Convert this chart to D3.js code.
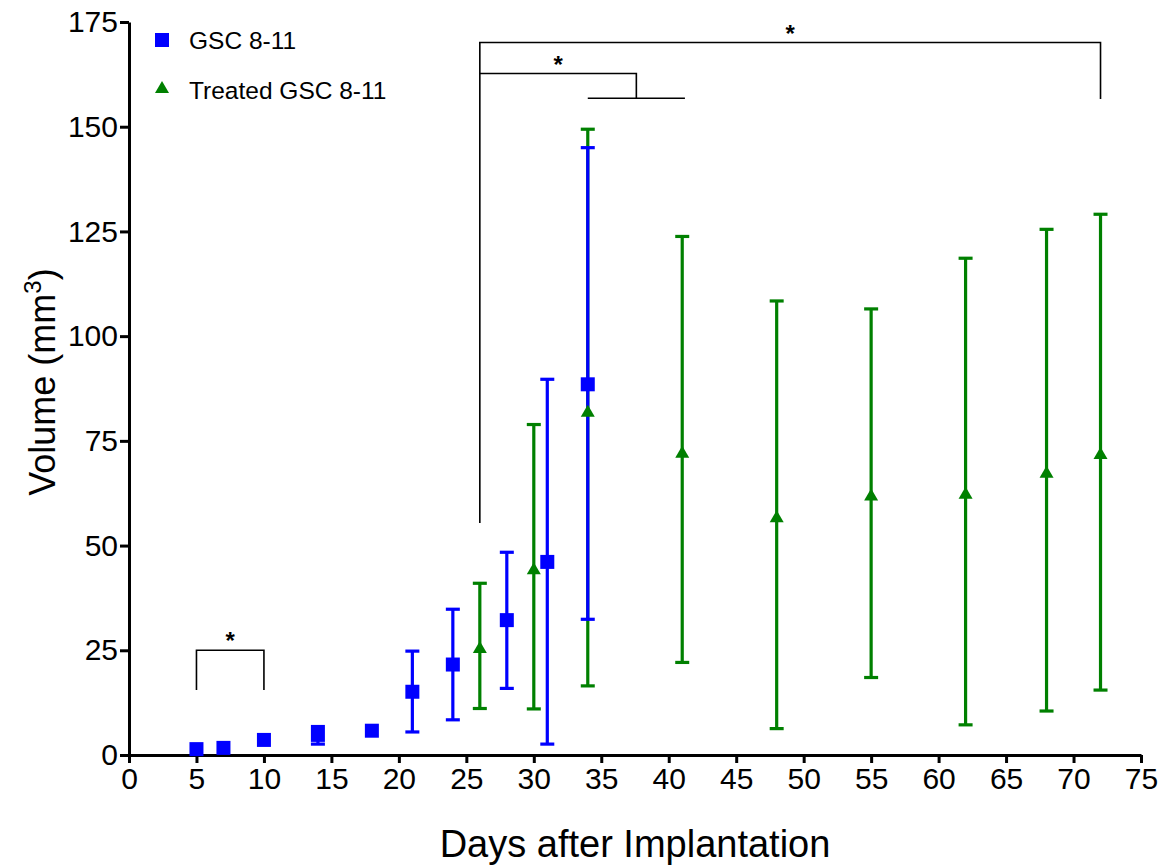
<!DOCTYPE html>
<html>
<head>
<meta charset="utf-8">
<script src="https://cdn.jsdelivr.net/npm/d3@7"></script>
<style>
  body { margin: 0; background: #fff; }
  text { font-family: "Liberation Sans", Arial, sans-serif; }
</style>
</head>
<body>
<div id="graph"></div>
<script>
// --------------------------------------
//  Data
// --------------------------------------

const blueDays = [5, 7, 10, 14, 18, 21, 24, 28, 31, 34];
const blueMean = [1.4, 1.7, 3.6, 4.8, 5.8, 15.1, 21.6, 32.2, 46.1, 88.5];
const blueLow  = [1.4, 1.7, 3.6, 2.6, 5.8, 5.5, 8.4, 15.9, 2.6, 32.4];
const blueHigh = [1.4, 1.7, 3.6, 6.8, 5.8, 24.8, 34.8, 48.4, 89.7, 145.0];

const greenDays = [26, 30, 34, 41, 48, 55, 62, 68, 72];
const greenMean = [25.8, 44.6, 82.2, 72.4, 57.0, 62.2, 62.6, 67.6, 72.1];
const greenLow  = [11.1, 11.0, 16.5, 22.1, 6.3, 18.5, 7.2, 10.5, 15.5];
const greenHigh = [41.0, 78.9, 149.4, 123.8, 108.4, 106.5, 118.6, 125.5, 129.1];

const seriesNames = ["GSC 8-11", "Treated GSC 8-11"];
const xTicks = d3.range(0, 80, 5);
const yTicks = d3.range(0, 200, 25);

// significance brackets, in data units [day, volume]
const bracketPaths = [
  [[5, 15.5], [5, 25], [10, 25], [10, 15.5]],
  [[26, 55.4], [26, 170.1], [72, 170.1], [72, 156.6]],
  [[26, 162.7], [37.6, 162.7], [37.6, 156.8]],
  [[34, 156.8], [41.2, 156.8]]
];
const starPos = [[7.5, 25], [49, 170.1], [31.8, 162.7]];

// --------------------------------------
//  Margin and canvas
// --------------------------------------

const margin = { top: 22, right: 21, bottom: 111, left: 129 };
const width = 1162 - margin.left - margin.right;
const height = 866 - margin.top - margin.bottom;

const svg = d3.select("#graph")
  .append("svg")
  .attr("width", 1162)
  .attr("height", 866)
  .append("g")
  .attr("transform", "translate(" + margin.left + "," + margin.top + ")");

const blue = "#0000ff";
const green = "#008000";

// --------------------------------------
//  Scales and axes
// --------------------------------------

const x = d3.scaleLinear().domain([0, 75]).range([0, width]);
const y = d3.scaleLinear().domain([0, 175]).range([height, 0]);

const xAxis = svg.append("g")
  .attr("transform", "translate(0," + height + ")")
  .call(d3.axisBottom(x).tickValues(xTicks).tickSize(8).tickSizeOuter(0).tickPadding(5));

const yAxis = svg.append("g")
  .call(d3.axisLeft(y).tickValues(yTicks).tickSize(9).tickSizeOuter(0).tickPadding(2));

[xAxis, yAxis].forEach(ax => {
  ax.select(".domain").attr("stroke", "#000").attr("stroke-width", 3);
  ax.selectAll(".tick line").attr("stroke", "#000").attr("stroke-width", 3);
  ax.selectAll(".tick text")
    .attr("fill", "#000")
    .attr("font-size", 30)
    .attr("font-family", "Liberation Sans, Arial, sans-serif");
});

svg.append("text")
  .attr("x", width / 2)
  .attr("y", height + 102)
  .attr("text-anchor", "middle")
  .attr("font-size", 38)
  .text("Days after Implantation");

const yTitle = svg.append("text")
  .attr("transform", "translate(" + (55 - margin.left) + "," + (382 - margin.top) + ") rotate(-90)")
  .attr("text-anchor", "middle")
  .attr("font-size", 36);
yTitle.append("tspan").text("Volume (mm");
yTitle.append("tspan").attr("font-size", 24).attr("dy", -14).text("3");
yTitle.append("tspan").attr("dy", 14).text(")");

// --------------------------------------
//  Series
// --------------------------------------

const blueData = blueDays.map((d, i) => ({ day: d, mean: blueMean[i], lo: blueLow[i], hi: blueHigh[i] }));
const greenData = greenDays.map((d, i) => ({ day: d, mean: greenMean[i], lo: greenLow[i], hi: greenHigh[i] }));

function errorBars(data, color) {
  const g = svg.append("g")
    .attr("stroke", color)
    .attr("stroke-width", 3.2)
    .selectAll("g")
    .data(data.filter(d => d.hi > d.lo))
    .join("g");
  g.append("line")
    .attr("x1", d => x(d.day)).attr("x2", d => x(d.day))
    .attr("y1", d => y(d.lo)).attr("y2", d => y(d.hi));
  g.append("line")
    .attr("x1", d => x(d.day) - 7).attr("x2", d => x(d.day) + 7)
    .attr("y1", d => y(d.lo)).attr("y2", d => y(d.lo));
  g.append("line")
    .attr("x1", d => x(d.day) - 7).attr("x2", d => x(d.day) + 7)
    .attr("y1", d => y(d.hi)).attr("y2", d => y(d.hi));
}

const triPath = "M0,-6L7,6L-7,6Z";

errorBars(greenData, green);
errorBars(blueData, blue);

svg.append("g")
  .selectAll("path")
  .data(greenData)
  .join("path")
  .attr("d", triPath)
  .attr("transform", d => "translate(" + x(d.day) + "," + y(d.mean) + ")")
  .attr("fill", green);

svg.append("g")
  .selectAll("rect")
  .data(blueData)
  .join("rect")
  .attr("x", d => x(d.day) - 7)
  .attr("y", d => y(d.mean) - 7)
  .attr("width", 14)
  .attr("height", 14)
  .attr("fill", blue);

// --------------------------------------
//  Significance brackets
// --------------------------------------

const line = d3.line().x(d => x(d[0])).y(d => y(d[1]));

svg.append("g")
  .selectAll("path")
  .data(bracketPaths)
  .join("path")
  .attr("d", line)
  .attr("fill", "none")
  .attr("stroke", "#000")
  .attr("stroke-width", 1.6);

svg.append("g")
  .selectAll("text")
  .data(starPos)
  .join("text")
  .attr("x", d => x(d[0]))
  .attr("y", d => y(d[1]) - 1)
  .attr("text-anchor", "middle")
  .attr("font-size", 24)
  .attr("font-weight", "bold")
  .text("*");

// --------------------------------------
//  Legend
// --------------------------------------

const legend = svg.append("g")
  .attr("transform", "translate(" + (162 - margin.left) + "," + (40 - margin.top) + ")");

legend.append("rect")
  .attr("x", -7).attr("y", -7).attr("width", 14).attr("height", 14)
  .attr("fill", blue);
legend.append("path")
  .attr("d", triPath)
  .attr("transform", "translate(0,47)")
  .attr("fill", green);

legend.selectAll("text")
  .data(seriesNames)
  .join("text")
  .attr("x", 27)
  .attr("y", (d, i) => 9 + i * 50)
  .attr("font-size", 24.5)
  .text(d => d);
</script>
</body>
</html>
